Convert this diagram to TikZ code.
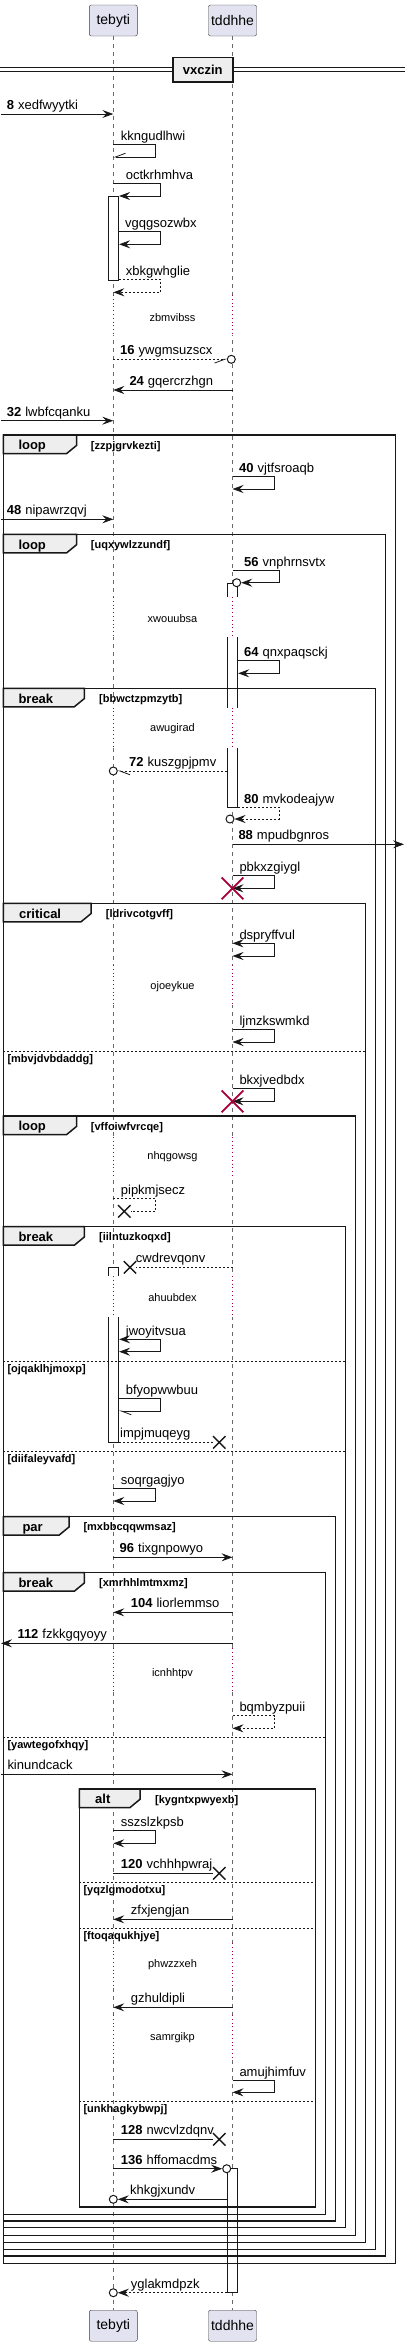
\documentclass[tikz,border=0pt]{standalone}
\usepackage{fontspec}
\setmainfont{Liberation Sans}
\usetikzlibrary{arrows.meta,shapes.misc}

\definecolor{partfill}{HTML}{E2E2F0}
\definecolor{tabfill}{HTML}{EEEEEE}
\definecolor{ink}{HTML}{181818}
\definecolor{pausered}{HTML}{A80036}

\tikzset{
  part/.style={draw=ink!85,fill=partfill,rounded corners=2pt,minimum width=48pt,minimum height=31pt,inner sep=0pt,font=\fontsize{14}{16}\selectfont},
  life/.style={ink!65,line width=0.6pt,dash pattern=on 4pt off 4pt},
  pause/.style={pausered,line width=0.7pt,dash pattern=on 0.8pt off 3pt},
  pausetxt/.style={inner sep=0pt,font=\fontsize{11}{13}\selectfont},
  act/.style={draw=ink,fill=white,line width=0.8pt,minimum width=10.4pt,inner sep=0pt},
  msg/.style={ink,line width=0.8pt,-{Stealth[length=11pt,width=8pt,inset=4pt]}},
  msgb/.style={ink,line width=0.8pt,{Stealth[length=11pt,width=8pt,inset=4pt]}-{Stealth[length=11pt,width=8pt,inset=4pt]}},
  barbL/.style={ink,line width=0.8pt,-{Straight Barb[harpoon,length=10pt,width=7.5pt]}},
  barbR/.style={ink,line width=0.8pt,-{Straight Barb[harpoon,swap,length=10pt,width=7.5pt]}},
  ret/.style={dash pattern=on 2pt off 2pt},
  lostline/.style={ink,line width=0.8pt},
  lbl/.style={inner sep=0pt,anchor=base west,font=\fontsize{13}{15}\selectfont},
  endo/.style={circle,draw=ink,fill=white,line width=1pt,minimum size=8pt,inner sep=0pt},
  lost/.style={cross out,draw=ink,line width=1.4pt,minimum size=11pt,inner sep=0pt},
  kill/.style={cross out,draw=pausered,line width=1.8pt,minimum size=20pt,inner sep=0pt},
  grp/.style={ink,line width=1.5pt},
  tab/.style={draw=ink,fill=tabfill,line width=1.5pt},
  kw/.style={inner sep=0pt,anchor=base west,font=\bfseries\fontsize{13}{15}\selectfont},
  cond/.style={inner sep=0pt,anchor=base west,font=\bfseries\fontsize{11}{13}\selectfont},
  elsel/.style={ink,line width=0.8pt,dash pattern=on 2pt off 2pt},
  divbox/.style={draw=ink,fill=tabfill,line width=1.6pt,minimum width=60pt,minimum height=24.4pt,inner sep=0pt,font=\bfseries\fontsize{13}{15}\selectfont}
}

\begin{document}
\begin{tikzpicture}[x=1pt,y=-1pt]
\useasboundingbox (0,0) rectangle (411,2346);

% participants and lifelines
\node[part] (tebyti) at (113.3,20.5) {tebyti};
\node[part] (tddhhe) at (232.5,20.5) {tddhhe};
\node[part] (tebytibot) at (113.3,2325.7) {tebyti};
\node[part] (tddhhebot) at (232.5,2325.7) {tddhhe};
\coordinate (edgel) at (1,0);
\coordinate (edger) at (404,0);
\draw[life] (tebyti) -- (tebytibot);
\draw[life] (tddhhe) -- (tddhhebot);

% divider
\draw[ink,line width=0.8pt] (0,67.7) -- (405,67.7) (0,71.7) -- (405,71.7);
\node[divbox] (vxczin) at (202.7,69.5) {vxczin};

% activations
\node[act,minimum height=84.3pt] (a1) at (113.5,238.15) {};
\node[act,minimum height=224.3pt] (a2) at (232.6,695.15) {};
\node[act,minimum height=175pt] (a3) at (113.5,1354.8) {};
\node[act,minimum height=124pt] (a4) at (232.6,2230.7) {};

% delays
\fill[white] (104,295) rectangle (241,335);
\draw[pause] (tebyti |- 0,295) -- (tebyti |- 0,335) (tddhhe |- 0,295) -- (tddhhe |- 0,335);
\node[pausetxt] (zbmvibss) at (172.5,317.3) {zbmvibss};
\fill[white] (104,597) rectangle (241,637);
\draw[pause] (tebyti |- 0,597) -- (tebyti |- 0,637) (tddhhe |- 0,597) -- (tddhhe |- 0,637);
\node[pausetxt] (xwouubsa) at (172.5,618.3) {xwouubsa};
\fill[white] (104,707.5) rectangle (241,748);
\draw[pause] (tebyti |- 0,707.5) -- (tebyti |- 0,748) (tddhhe |- 0,707.5) -- (tddhhe |- 0,748);
\node[pausetxt] (awugirad) at (172.5,728.3) {awugirad};
\fill[white] (104,965) rectangle (241,1005);
\draw[pause] (tebyti |- 0,965) -- (tebyti |- 0,1005) (tddhhe |- 0,965) -- (tddhhe |- 0,1005);
\node[pausetxt] (ojoeykue) at (172.5,986.7) {ojoeykue};
\fill[white] (104,1137) rectangle (241,1177);
\draw[pause] (tebyti |- 0,1137) -- (tebyti |- 0,1177) (tddhhe |- 0,1137) -- (tddhhe |- 0,1177);
\node[pausetxt] (nhqgowsg) at (172.5,1156.7) {nhqgowsg};
\fill[white] (104,1276) rectangle (241,1317);
\draw[pause] (tebyti |- 0,1276) -- (tebyti |- 0,1317) (tddhhe |- 0,1276) -- (tddhhe |- 0,1317);
\node[pausetxt] (ahuubdex) at (172.5,1297.7) {ahuubdex};
\fill[white] (104,1648) rectangle (241,1692);
\draw[pause] (tebyti |- 0,1648) -- (tebyti |- 0,1692) (tddhhe |- 0,1648) -- (tddhhe |- 0,1692);
\node[pausetxt] (icnhhtpv) at (172.5,1673.3) {icnhhtpv};
\fill[white] (104,1943) rectangle (241,1985);
\draw[pause] (tebyti |- 0,1943) -- (tebyti |- 0,1985) (tddhhe |- 0,1943) -- (tddhhe |- 0,1985);
\node[pausetxt] (phwzzxeh) at (172.5,1965) {phwzzxeh};
\fill[white] (104,2015) rectangle (241,2057);
\draw[pause] (tebyti |- 0,2015) -- (tebyti |- 0,2057) (tddhhe |- 0,2015) -- (tddhhe |- 0,2057);
\node[pausetxt] (samrgikp) at (172.5,2037.7) {samrgikp};

% groups
\draw[grp] (3.3,435) rectangle (395.7,2263.3);
\filldraw[tab] (3.3,435) -- (76.7,435) -- (76.7,445.3) -- (66.7,453.5) -- (3.3,453.5) -- cycle;
\node[kw] (loopa) at (18.3,449.7) {loop};
\node[cond] (zzpjgrvkezti) at (90.7,449) {[zzpjgrvkezti]};

\draw[grp] (3.3,534.3) rectangle (385.7,2256);
\filldraw[tab] (3.3,534.3) -- (76.7,534.3) -- (76.7,544.6) -- (66.7,552.8) -- (3.3,552.8) -- cycle;
\node[kw] (loopb) at (18.3,549) {loop};
\node[cond] (uqxywlzzundf) at (90.7,548.3) {[uqxywlzzundf]};

\draw[grp] (3.3,688.3) rectangle (375.7,2249.3);
\filldraw[tab] (3.3,688.3) -- (84.3,688.3) -- (84.3,698.6) -- (74.3,706.8) -- (3.3,706.8) -- cycle;
\node[kw] (breaka) at (18.3,703) {break};
\node[cond] (bbwctzpmzytb) at (99,702.3) {[bbwctzpmzytb]};

\draw[grp] (3.3,903.3) rectangle (365.7,2242.7);
\filldraw[tab] (3.3,903.3) -- (91,903.3) -- (91,913.6) -- (81,921.8) -- (3.3,921.8) -- cycle;
\node[kw] (criticala) at (19,918) {critical};
\node[cond] (ldrivcotgvff) at (105.7,917.3) {[ldrivcotgvff]};
\draw[elsel] (3.3,1051) -- (365.7,1051);
\node[cond] (mbvjdvbdaddg) at (7.3,1062) {[mbvjdvbdaddg]};

\draw[grp] (3.3,1116) rectangle (355.7,2235.3);
\filldraw[tab] (3.3,1116) -- (76.7,1116) -- (76.7,1126.3) -- (66.7,1134.5) -- (3.3,1134.5) -- cycle;
\node[kw] (loopc) at (18.3,1130.7) {loop};
\node[cond] (vffoiwfvrcqe) at (90.7,1130) {[vffoiwfvrcqe]};

\draw[grp] (3.3,1226.7) rectangle (345.7,2227.7);
\filldraw[tab] (3.3,1226.7) -- (84.3,1226.7) -- (84.3,1237) -- (74.3,1245.2) -- (3.3,1245.2) -- cycle;
\node[kw] (breakb) at (18.3,1241.4) {break};
\node[cond] (iilntuzkoqxd) at (99,1240.7) {[iilntuzkoqxd]};
\draw[elsel] (3.3,1361.7) -- (345.7,1361.7);
\node[cond] (ojqaklhjmoxp) at (7.3,1372.7) {[ojqaklhjmoxp]};
\draw[elsel] (3.3,1451.7) -- (345.7,1451.7);
\node[cond] (diifaleyvafd) at (7.3,1462.7) {[diifaleyvafd]};

\draw[grp] (3.3,1516.7) rectangle (335.7,2221);
\filldraw[tab] (3.3,1516.7) -- (69,1516.7) -- (69,1527) -- (59,1535.2) -- (3.3,1535.2) -- cycle;
\node[kw] (para) at (22.3,1531.4) {par};
\node[cond] (mxbbcqqwmsaz) at (83.3,1530.7) {[mxbbcqqwmsaz]};

\draw[grp] (3.3,1572.7) rectangle (325.7,2214.3);
\filldraw[tab] (3.3,1572.7) -- (84.3,1572.7) -- (84.3,1583) -- (74.3,1591.2) -- (3.3,1591.2) -- cycle;
\node[kw] (breakc) at (18.3,1587.4) {break};
\node[cond] (xmrhhlmtmxmz) at (99,1586.7) {[xmrhhlmtmxmz]};
\draw[elsel] (3.3,1737.3) -- (325.7,1737.3);
\node[cond] (yawtegofxhqy) at (7.3,1748.3) {[yawtegofxhqy]};

\draw[grp] (79.3,1789) rectangle (315.7,2207);
\filldraw[tab] (79.3,1789) -- (140,1789) -- (140,1799.3) -- (130,1807.5) -- (79.3,1807.5) -- cycle;
\node[kw] (alta) at (95,1803.7) {alt};
\node[cond] (kygntxpwyexb) at (155,1803) {[kygntxpwyexb]};
\draw[elsel] (79.3,1882) -- (315.7,1882);
\node[cond] (yqzlgmodotxu) at (83.3,1893) {[yqzlgmodotxu]};
\draw[elsel] (79.3,1928.3) -- (315.7,1928.3);
\node[cond] (ftoqaqukhjye) at (83.3,1939.3) {[ftoqaqukhjye]};
\draw[elsel] (79.3,2101) -- (315.7,2101);
\node[cond] (unkhagkybwpj) at (83.3,2112) {[unkhagkybwpj]};

% messages
\draw[msg] (edgel |- 0,114) -- (tebyti |- 0,114);
\draw[barbR] (tebyti |- 0,144.3) -| (155.7,157) -- (tebyti |- 0,157);
\draw[msg] (tebyti |- 0,183) -| (160.7,196) -- (a1.east |- 0,196);
\draw[msg] (a1.east |- 0,231.7) -| (160.7,244.3) -- (a1.east |- 0,244.3);
\draw[msg,ret] (a1.east |- 0,279.3) -| (160.7,292.3) -- (tebyti |- 0,292.3);
\node[endo] (o16) at (231.3,359.3) {};
\draw[barbR,ret] (tebyti |- 0,359.3) -- (o16.west);
\draw[msg] (tddhhe |- 0,390) -- (tebyti |- 0,390);
\draw[msg] (edgel |- 0,420.7) -- (tebyti |- 0,420.7);
\draw[msg] (tddhhe |- 0,476.7) -| (274.3,489) -- (tddhhe |- 0,489);
\draw[msg] (edgel |- 0,519.3) -- (tebyti |- 0,519.3);
\node[endo] (o56) at (236.7,582.7) {};
\draw[msg] (tddhhe |- 0,570.3) -| (279.3,582.7) -- (o56.east);
\draw[msg] (a2.east |- 0,660.7) -| (279.3,673.3) -- (a2.east |- 0,673.3);
\node[endo] (o72) at (tebyti |- 0,771) {};
\draw[barbL,ret] (a2.west |- 0,771) -- (o72.east);
\node[endo] (o80) at (230,819) {};
\draw[msg,ret] (a2.east |- 0,807.3) -| (279.3,819) -- (o80.east);
\draw[msg] (tddhhe |- 0,844.3) -- (edger |- 0,844.3);
\draw[msg] (tddhhe |- 0,875.7) -| (274.3,888.3) -- (tddhhe |- 0,888.3);
\node[kill] (k1) at (tddhhe |- 0,888.3) {};
\draw[msgb] (tddhhe |- 0,943.3) -| (274.3,956) -- (tddhhe |- 0,956);
\draw[msg] (tddhhe |- 0,1029.3) -| (274.3,1042) -- (tddhhe |- 0,1042);
\draw[msg] (tddhhe |- 0,1088.7) -| (274.3,1101.3) -- (tddhhe |- 0,1101.3);
\node[kill] (k2) at (tddhhe |- 0,1101.3) {};
\node[lost] (x1) at (124.3,1211.3) {};
\draw[lostline,ret] (tebyti |- 0,1198.3) -| (155.7,1211.3) -- (x1);
\node[lost] (x2) at (130,1267.3) {};
\draw[lostline,ret] (tddhhe |- 0,1267.3) -- (x2);
\draw[msgb] (a3.east |- 0,1339.3) -| (160.7,1351.7) -- (a3.east |- 0,1351.7);
\draw[barbL] (a3.east |- 0,1398.3) -| (160.7,1411) -- (a3.east |- 0,1411);
\node[lost] (x3) at (219.3,1442.3) {};
\draw[lostline,ret] (a3.east |- 0,1442.3) -- (x3);
\draw[msg] (tebyti |- 0,1488.3) -| (155.7,1501) -- (tebyti |- 0,1501);
\draw[msg] (tebyti |- 0,1557.3) -- (tddhhe |- 0,1557.3);
\draw[msg] (tddhhe |- 0,1612.3) -- (tebyti |- 0,1612.3);
\draw[msg] (tddhhe |- 0,1643.3) -- (edgel |- 0,1643.3);
\draw[msg,ret] (tddhhe |- 0,1715.7) -| (274.3,1728.3) -- (tddhhe |- 0,1728.3);
\draw[msg] (edgel |- 0,1774.3) -- (tddhhe |- 0,1774.3);
\draw[msg] (tebyti |- 0,1830.7) -| (155.7,1843.3) -- (tebyti |- 0,1843.3);
\node[lost] (x4) at (219.3,1873.3) {};
\draw[lostline] (tebyti |- 0,1873.3) -- (x4);
\draw[msg] (tddhhe |- 0,1919.3) -- (tebyti |- 0,1919.3);
\draw[msg] (tddhhe |- 0,2007.3) -- (tebyti |- 0,2007.3);
\draw[msg] (tddhhe |- 0,2080) -| (274.3,2092.3) -- (tddhhe |- 0,2092.3);
\node[lost] (x5) at (219.3,2139.3) {};
\draw[lostline] (tebyti |- 0,2139.3) -- (x5);
\node[endo] (o136) at (226.7,2168.7) {};
\draw[msg] (tebyti |- 0,2168.7) -- (o136);
\node[endo] (o137) at (tebyti |- 0,2199.3) {};
\draw[msg] (a4.west |- 0,2199.3) -- (o137);
\node[endo] (o138) at (tebyti |- 0,2292.7) {};
\draw[msg,ret] (a4.west |- 0,2292.7) -- (o138);

% message texts
\node[lbl] (xedfwyytki) at (6.7,109.5) {\textbf{8}\hspace{4pt}xedfwyytki};
\node[lbl] (kkngudlhwi) at (120.7,140.3) {kkngudlhwi};
\node[lbl] (octkrhmhva) at (125.7,179) {octkrhmhva};
\node[lbl] (vgqgsozwbx) at (125,227.7) {vgqgsozwbx};
\node[lbl] (xbkgwhglie) at (125.7,275.3) {xbkgwhglie};
\node[lbl] (ywgmsuzscx) at (120,354.8) {\textbf{16}\hspace{4pt}ywgmsuzscx};
\node[lbl] (gqercrzhgn) at (129.3,385.5) {\textbf{24}\hspace{4pt}gqercrzhgn};
\node[lbl] (lwbfcqanku) at (6.7,416.2) {\textbf{32}\hspace{4pt}lwbfcqanku};
\node[lbl] (vjtfsroaqb) at (239,472.7) {\textbf{40}\hspace{4pt}vjtfsroaqb};
\node[lbl] (nipawrzqvj) at (6.7,514.8) {\textbf{48}\hspace{4pt}nipawrzqvj};
\node[lbl] (vnphrnsvtx) at (244,566.3) {\textbf{56}\hspace{4pt}vnphrnsvtx};
\node[lbl] (qnxpaqsckj) at (244,656.7) {\textbf{64}\hspace{4pt}qnxpaqsckj};
\node[lbl] (kuszgpjpmv) at (129,766.5) {\textbf{72}\hspace{4pt}kuszgpjpmv};
\node[lbl] (mvkodeajyw) at (244,803.3) {\textbf{80}\hspace{4pt}mvkodeajyw};
\node[lbl] (mpudbgnros) at (238.3,839.8) {\textbf{88}\hspace{4pt}mpudbgnros};
\node[lbl] (pbkxzgiygl) at (239.3,871.7) {pbkxzgiygl};
\node[lbl] (dspryffvul) at (239.3,939.3) {dspryffvul};
\node[lbl] (ljmzkswmkd) at (239.3,1025.3) {ljmzkswmkd};
\node[lbl] (bkxjvedbdx) at (239.3,1084.7) {bkxjvedbdx};
\node[lbl] (pipkmjsecz) at (120.7,1194.3) {pipkmjsecz};
\node[lbl] (cwdrevqonv) at (135.7,1262.8) {cwdrevqonv};
\node[lbl] (jwoyitvsua) at (125.7,1335.3) {jwoyitvsua};
\node[lbl] (bfyopwwbuu) at (125.7,1394.3) {bfyopwwbuu};
\node[lbl] (impjmuqeyg) at (120,1437.8) {impjmuqeyg};
\node[lbl] (soqrgagjyo) at (120.7,1484.3) {soqrgagjyo};
\node[lbl] (tixgnpowyo) at (119.5,1552.8) {\textbf{96}\hspace{4pt}tixgnpowyo};
\node[lbl] (liorlemmso) at (130.7,1607.8) {\textbf{104}\hspace{4pt}liorlemmso};
\node[lbl] (fzkkgqyoyy) at (17.3,1638.8) {\textbf{112}\hspace{4pt}fzkkgqyoyy};
\node[lbl] (bqmbyzpuii) at (239.3,1711.7) {bqmbyzpuii};
\node[lbl] (kinundcack) at (7.3,1769.8) {kinundcack};
\node[lbl] (sszslzkpsb) at (120.7,1826.7) {sszslzkpsb};
\node[lbl] (vchhhpwraj) at (120.7,1868.8) {\textbf{120}\hspace{4pt}vchhhpwraj};
\node[lbl] (zfxjengjan) at (130.7,1914.8) {zfxjengjan};
\node[lbl] (gzhuldipli) at (130.7,2002.8) {gzhuldipli};
\node[lbl] (amujhimfuv) at (239.3,2076) {amujhimfuv};
\node[lbl] (nwcvlzdqnv) at (120.7,2134.8) {\textbf{128}\hspace{4pt}nwcvlzdqnv};
\node[lbl] (hffomacdms) at (120.7,2164.2) {\textbf{136}\hspace{4pt}hffomacdms};
\node[lbl] (khkgjxundv) at (130,2194.8) {khkgjxundv};
\node[lbl] (yglakmdpzk) at (130.7,2288.2) {yglakmdpzk};
\end{tikzpicture}
\end{document}
